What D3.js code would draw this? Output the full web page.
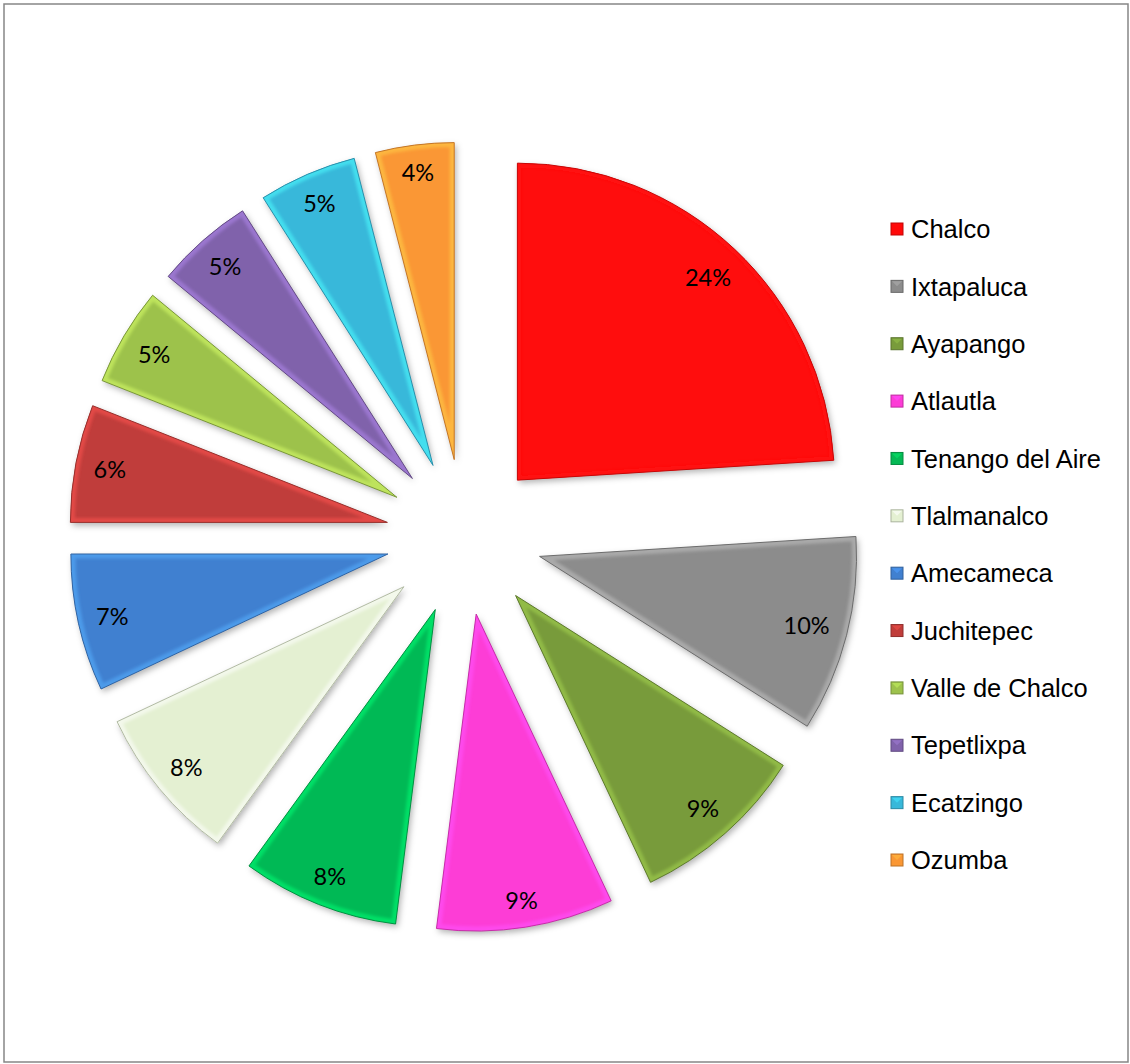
<!DOCTYPE html>
<html>
<head>
<meta charset="utf-8">
<script src="https://cdn.jsdelivr.net/npm/d3@7"></script>
<style>
  html,body{margin:0;padding:0;background:#fff;}
  svg{display:block;}
</style>
</head>
<body>
<svg id="chart" width="1130" height="1064"></svg>
<script>
// data
var municipios = ["Chalco","Ixtapaluca","Ayapango","Atlautla","Tenango del Aire","Tlalmanalco",
                  "Amecameca","Juchitepec","Valle de Chalco","Tepetlixpa","Ecatzingo","Ozumba"];
var porcentajes = [24,10,9,9,8,8,7,6,5,5,5,4];
var colores = ["#ff0909","#8c8c8c","#789b3b","#fd3cd6","#05b955","#e4f0d2",
               "#4080d0","#c03d3a","#9dc24c","#8062ab","#38b8da","#fa9734"];

var width = 1130, height = 1064;
var cx = 464, cy = 537, radius = 317, explode = 78;

var svg = d3.select("#chart");
var defs = svg.append("defs");

// frame
svg.append("rect")
  .attr("x",4).attr("y",4).attr("width",1124).attr("height",1058)
  .attr("fill","#fff").attr("stroke","#868686").attr("stroke-width",1.5);

var shadow = defs.append("filter").attr("id","shadow")
  .attr("x","-20%").attr("y","-20%").attr("width","140%").attr("height","140%");
shadow.append("feDropShadow").attr("dx",2).attr("dy",3).attr("stdDeviation",3)
  .attr("flood-color","#000").attr("flood-opacity",0.3);

var soft = defs.append("filter").attr("id","soft");
soft.append("feGaussianBlur").attr("stdDeviation",1.6);

var color = d3.scaleOrdinal().domain(municipios).range(colores);

var pie = d3.pie().sort(null).value(function(d){ return d.v; });
var arcs = pie(municipios.map(function(m,i){ return {name:m, v:porcentajes[i]}; }));
var arc = d3.arc().innerRadius(0).outerRadius(radius);

var g = svg.append("g").attr("transform","translate("+cx+","+cy+")");

var slices = g.selectAll("g.slice").data(arcs).enter().append("g")
  .attr("class","slice")
  .attr("transform",function(d){
    var a = (d.startAngle+d.endAngle)/2;
    return "translate("+(Math.sin(a)*explode)+","+(-Math.cos(a)*explode)+")";
  });

slices.each(function(d,i){
  var s = d3.select(this);
  var c = color(d.data.name);
  var cp = defs.append("clipPath").attr("id","clip"+i);
  cp.append("path").attr("d",arc(d));
  s.append("path").attr("d",arc(d))
    .attr("fill",c).attr("filter","url(#shadow)");
  // bevel: light inner rim + darker edge
  var inner = s.append("g").attr("clip-path","url(#clip"+i+")");
  inner.append("path").attr("d",arc(d))
    .attr("fill","none").attr("stroke",d3.color(c).brighter(0.9)).attr("stroke-opacity",0.55)
    .attr("stroke-width",9).attr("filter","url(#soft)");
  s.append("path").attr("d",arc(d))
    .attr("fill","none").attr("stroke",d3.color(c).darker(0.7))
    .attr("stroke-width",1).attr("stroke-linejoin","round");
});

// data labels, inside end
slices.append("text")
  .attr("font-family","Lato, 'Open Sans', sans-serif")
  .attr("font-size","23.5px")
  .attr("fill","#000")
  .attr("text-anchor","middle")
  .attr("dominant-baseline","central")
  .text(function(d){ return d.data.v+"%"; })
  .each(function(d){
    var t = d3.select(this);
    var bb = this.getBBox();
    var a = (d.startAngle+d.endAngle)/2;
    var sx = Math.sin(a), sy = -Math.cos(a);
    var ext = Math.abs(sx)*bb.width/2 + Math.abs(sy)*8;
    var rl = radius - 17 - ext;
    t.attr("x",sx*rl).attr("y",sy*rl);
  });

// legend
var ly = d3.scalePoint().domain(municipios).range([229,860]);
var leg = svg.append("g").selectAll("g").data(municipios).enter().append("g")
  .attr("transform",function(d){ return "translate(891,"+ly(d)+")"; });
leg.append("rect").attr("x",0).attr("y",-6).attr("width",12).attr("height",12)
  .attr("fill",function(d){ return color(d); })
  .attr("stroke",function(d){ return d3.color(color(d)).darker(0.8); }).attr("stroke-width",1);
leg.append("path").attr("d","M1,-5 L11,-5 L6,0 Z")
  .attr("fill",function(d){ return d3.color(color(d)).brighter(0.6); }).attr("opacity",0.6);
leg.append("text").attr("x",20).attr("y",0).attr("dy","0.36em")
  .attr("font-family","'Liberation Sans', Arial, sans-serif")
  .attr("font-size","25.5px").attr("fill","#000")
  .text(function(d){ return d; });
</script>
</body>
</html>
